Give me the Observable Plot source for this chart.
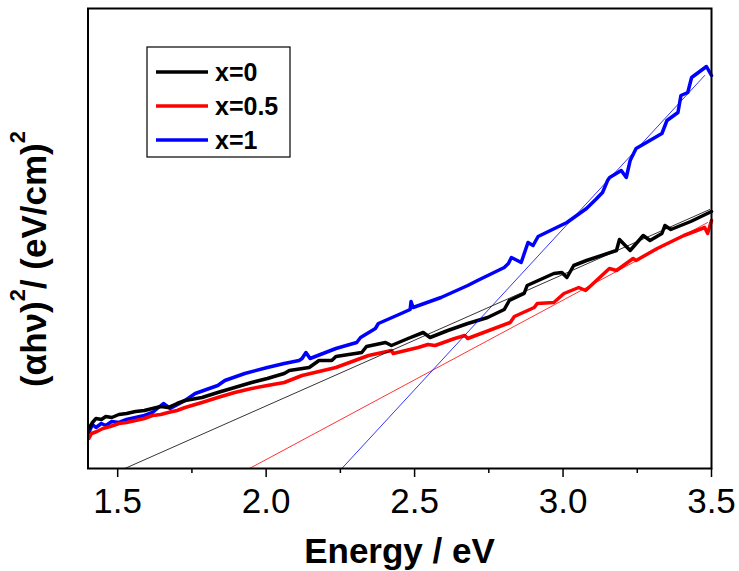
<!DOCTYPE html>
<html>
<head>
<meta charset="utf-8">
<script src="https://cdn.jsdelivr.net/npm/d3@7"></script>
<script src="https://cdn.jsdelivr.net/npm/@observablehq/plot@0.6"></script>
<style>
  html, body { margin: 0; padding: 0; background: #fff; }
  #chart { width: 739px; height: 571px; }
</style>
</head>
<body>
<div id="chart"></div>
<script>
// ---- data (energy in eV, signal in arbitrary units) ----
const blackE = [1.403,1.415,1.427,1.445,1.460,1.480,1.504,1.530,1.560,1.590,1.617,1.645,1.670,1.700,1.727,1.784,1.837,1.894,1.951,2.004,2.061,2.078,2.145,2.178,2.221,2.235,2.322,2.338,2.402,2.422,2.478,2.529,2.552,2.612,2.679,2.746,2.802,2.819,2.869,2.879,2.969,2.996,3.013,3.036,3.079,3.180,3.190,3.226,3.270,3.293,3.333,3.343,3.363,3.430,3.500];
const blackV = [40,46,50,49,52,51,54,55,57,58,60,62,61,65,68,71,76,81,86,90,95,98,101,108,108,112,116,122,126,123,130,136,131,138,145,151,159,168,175,183,195,196,191,203,208,218,229,218,233,228,235,243,239,247,257];

const redE = [1.403,1.412,1.430,1.450,1.475,1.504,1.530,1.560,1.590,1.617,1.645,1.670,1.700,1.727,1.784,1.837,1.894,1.951,2.004,2.061,2.121,2.235,2.345,2.422,2.428,2.512,2.545,2.569,2.635,2.669,2.679,2.822,2.836,2.903,2.913,2.969,3.003,3.053,3.076,3.156,3.180,3.236,3.246,3.317,3.407,3.477,3.487,3.500];
const redV = [30,35,37,40,42,45,46,48,50,53,54,56,58,61,66,71,76,80,83,86,93,101,113,118,115,121,124,123,130,133,130,146,152,161,165,166,175,181,178,200,198,210,208,220,233,241,235,248];

const blueE = [1.403,1.415,1.427,1.445,1.460,1.480,1.504,1.530,1.560,1.590,1.617,1.654,1.677,1.727,1.761,1.837,1.861,1.928,2.004,2.061,2.111,2.121,2.134,2.148,2.235,2.305,2.318,2.368,2.378,2.455,2.485,2.488,2.495,2.589,2.679,2.712,2.802,2.816,2.826,2.846,2.859,2.882,2.899,2.916,3.013,3.079,3.110,3.133,3.150,3.157,3.196,3.213,3.226,3.246,3.333,3.350,3.387,3.397,3.420,3.433,3.483,3.500];
const blueV = [36,44,41,45,43,47,46,49,51,53,56,65,60,68,75,83,88,95,101,105,108,110,116,110,120,126,131,140,145,155,159,167,161,171,183,188,201,205,211,208,206,226,223,232,246,260,269,276,288,291,298,291,308,320,335,348,356,373,376,391,402,393];

// straight-line fits (extrapolated to zero)
const fitBlackE = [1.524, 3.494], fitBlackV = [0, 259];
const fitRedE   = [1.944, 3.487], fitRedV   = [0, 246];
const fitBlueE  = [2.255, 3.477], fitBlueV  = [0, 393];

const majorTicks = [1.5, 2.0, 2.5, 3.0, 3.5];
const minorTicks = [1.75, 2.25, 2.75, 3.25];

const seriesNames = ["x=0", "x=0.5", "x=1"];
const seriesColors = ["#000000", "#ff0000", "#0000ff"];

const toRows = (E, V) => E.map((e, i) => ({e, v: V[i]}));

const W = 739, H = 571;
const mL = 87.5, mR = 28, mT = 8, mB = 103;
const FONT = "'Liberation Sans', Arial, sans-serif";

const plot = Plot.plot({
  width: W, height: H,
  marginLeft: mL, marginRight: mR, marginTop: mT, marginBottom: mB,
  style: {fontFamily: FONT, fontSize: "35px", color: "#000", background: "#fff"},
  x: {domain: [1.4, 3.5], label: null},
  y: {domain: [0, 460], axis: null},
  marks: [
    Plot.line(toRows(blueE, blueV), {x: "e", y: "v", stroke: seriesColors[2], strokeWidth: 3.5, strokeLinejoin: "round"}),
    Plot.line(toRows(redE, redV), {x: "e", y: "v", stroke: seriesColors[1], strokeWidth: 3.5, strokeLinejoin: "round"}),
    Plot.line(toRows(blackE, blackV), {x: "e", y: "v", stroke: seriesColors[0], strokeWidth: 3.5, strokeLinejoin: "round"}),
    Plot.line(toRows(fitBlackE, fitBlackV), {x: "e", y: "v", stroke: seriesColors[0], strokeWidth: 0.8}),
    Plot.line(toRows(fitRedE, fitRedV), {x: "e", y: "v", stroke: seriesColors[1], strokeWidth: 0.8}),
    Plot.line(toRows(fitBlueE, fitBlueV), {x: "e", y: "v", stroke: seriesColors[2], strokeWidth: 0.8}),
    Plot.axisX({ticks: minorTicks, tickSize: 5, tickFormat: () => "", strokeWidth: 1.5, label: null}),
    Plot.axisX({ticks: majorTicks, tickSize: 9, tickPadding: 11, tickFormat: d => d.toFixed(1), strokeWidth: 1.5, label: null}),
    Plot.frame({stroke: "#000", strokeWidth: 2})
  ]
});

const svg = d3.select(plot);

// x-axis title
svg.append("text")
  .attr("x", 399.5).attr("y", 563)
  .attr("text-anchor", "middle")
  .attr("font-weight", "bold").attr("font-size", 35)
  .attr("font-family", FONT)
  .text("Energy / eV");

// y-axis title with superscripts
const yt = svg.append("text")
  .attr("transform", "translate(46,259) rotate(-90)")
  .attr("text-anchor", "middle")
  .attr("font-weight", "bold").attr("font-size", 35)
  .attr("font-family", FONT);
yt.append("tspan").text("(αhν)");
yt.append("tspan").attr("font-size", 22).attr("dy", -21).text("2");
yt.append("tspan").attr("dy", 21).text("/ (eV/cm)");
yt.append("tspan").attr("font-size", 22).attr("dy", -21).text("2");

// legend
const lg = svg.append("g");
lg.append("rect").attr("x", 147).attr("y", 47).attr("width", 143).attr("height", 110)
  .attr("fill", "#fff").attr("stroke", "#000").attr("stroke-width", 1.2);
const rowsY = [72, 106, 140];
seriesNames.forEach((name, i) => {
  lg.append("line").attr("x1", 156).attr("x2", 208).attr("y1", rowsY[i]).attr("y2", rowsY[i])
    .attr("stroke", seriesColors[i]).attr("stroke-width", 3.5);
  lg.append("text").attr("x", 215).attr("y", rowsY[i]).attr("dy", "0.36em")
    .attr("text-anchor", "start")
    .attr("font-weight", "bold").attr("font-size", 25)
    .attr("font-family", FONT)
    .text(name);
});

document.getElementById("chart").appendChild(plot);
</script>
</body>
</html>
